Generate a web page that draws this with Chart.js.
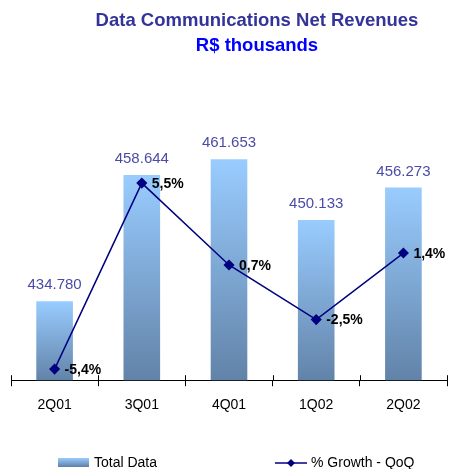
<!DOCTYPE html>
<html>
<head>
<meta charset="utf-8">
<script src="https://cdn.jsdelivr.net/npm/chart.js@4/dist/chart.umd.min.js"></script>
<style>
  html, body { margin: 0; padding: 0; background: #fff; }
  #wrap { width: 453px; height: 469px; }
</style>
</head>
<body>
<div id="wrap"><canvas id="chart" width="453" height="469"></canvas></div>
<script>
// data
var quarters = ["2Q01", "3Q01", "4Q01", "1Q02", "2Q02"];
var totalData = [434780, 458644, 461653, 450133, 456273];
var growth = [-5.4, 5.5, 0.7, -2.5, 1.4];
var titleLines = ["Data Communications Net Revenues", "R$ thousands"];
var legendNames = ["Total Data", "% Growth - QoQ"];

function fmtThousands(v) {
  return String(v).replace(/\B(?=(\d{3})+(?!\d))/g, ".");
}
function fmtPct(v) {
  return v.toFixed(1).replace(".", ",") + "%";
}

var FONT = "'Liberation Sans', Arial, sans-serif";

var extras = {
  id: "extras",
  afterDatasetsDraw: function(chart) {
    var ctx = chart.ctx;
    var barMeta = chart.getDatasetMeta(0);
    var lineMeta = chart.getDatasetMeta(1);
    ctx.save();
    // value labels over bars
    ctx.font = "15px " + FONT;
    ctx.fillStyle = "#4b4ba6";
    ctx.textAlign = "center";
    ctx.textBaseline = "middle";
    barMeta.data.forEach(function(bar, i) {
      ctx.fillText(fmtThousands(totalData[i]), bar.x, bar.y - 16);
    });
    // growth labels
    ctx.font = "bold 14px " + FONT;
    ctx.fillStyle = "#000";
    ctx.textAlign = "left";
    lineMeta.data.forEach(function(pt, i) {
      ctx.fillText(fmtPct(growth[i]), pt.x + 10, pt.y + 1);
    });
    ctx.restore();
  },
  afterDraw: function(chart) {
    var ctx = chart.ctx;
    var xs = chart.scales.x;
    var area = chart.chartArea;
    ctx.save();
    // small tick marks above the axis line
    var step = xs.getPixelForValue(1) - xs.getPixelForValue(0);
    ctx.strokeStyle = "#000";
    ctx.lineWidth = 1;
    for (var i = 0; i <= quarters.length; i++) {
      var px = Math.round(xs.getPixelForValue(i) - step / 2) + 0.5;
      ctx.beginPath();
      ctx.moveTo(px, area.bottom - 5);
      ctx.lineTo(px, area.bottom);
      ctx.stroke();
    }
    // title
    ctx.textAlign = "center";
    ctx.textBaseline = "middle";
    ctx.font = "bold 18.5px " + FONT;
    ctx.fillStyle = "#333399";
    ctx.fillText(titleLines[0], 257, 21);
    ctx.fillStyle = "#0000ff";
    ctx.fillText(titleLines[1], 257, 46);
    // legend
    var g = ctx.createLinearGradient(0, 458, 0, 467);
    g.addColorStop(0, "#99ccff");
    g.addColorStop(1, "#5f7fa5");
    ctx.fillStyle = g;
    ctx.fillRect(58, 458, 31, 9);
    ctx.font = "14px " + FONT;
    ctx.fillStyle = "#000";
    ctx.textAlign = "left";
    ctx.fillText(legendNames[0], 94, 463);
    ctx.strokeStyle = "#000080";
    ctx.lineWidth = 1.5;
    ctx.beginPath();
    ctx.moveTo(275, 463);
    ctx.lineTo(307, 463);
    ctx.stroke();
    ctx.fillStyle = "#000080";
    ctx.beginPath();
    ctx.moveTo(291, 459);
    ctx.lineTo(295, 463);
    ctx.lineTo(291, 467);
    ctx.lineTo(287, 463);
    ctx.closePath();
    ctx.fill();
    ctx.fillStyle = "#000";
    ctx.fillText(legendNames[1], 311, 463);
    ctx.restore();
  }
};

function barGradient(context) {
  var chart = context.chart;
  var area = chart.chartArea;
  var ys = chart.scales.y;
  if (!area || !ys) return "#7fa6d6";
  var top = ys.getPixelForValue(totalData[context.dataIndex]);
  if (!isFinite(top) || !isFinite(area.bottom)) return "#7fa6d6";
  var g = chart.ctx.createLinearGradient(0, top, 0, area.bottom);
  g.addColorStop(0, "#99ccff");
  g.addColorStop(1, "#6283a8");
  return g;
}

new Chart(document.getElementById("chart"), {
  type: "bar",
  data: {
    labels: quarters,
    datasets: [{
      type: "bar",
      label: legendNames[0],
      data: totalData,
      yAxisID: "y",
      backgroundColor: barGradient,
      borderWidth: 0,
      categoryPercentage: 1,
      barPercentage: 0.42,
      order: 2
    }, {
      type: "line",
      label: legendNames[1],
      data: growth,
      yAxisID: "y1",
      borderColor: "#000080",
      backgroundColor: "#000080",
      borderWidth: 1.5,
      pointStyle: "rectRot",
      pointRadius: 4.5,
      pointHoverRadius: 4.5,
      tension: 0,
      order: 1
    }]
  },
  options: {
    responsive: false,
    animation: false,
    events: [],
    layout: { padding: { top: 80, left: 11, right: -5, bottom: 44 } },
    plugins: {
      legend: { display: false },
      title: { display: false },
      tooltip: { enabled: false }
    },
    scales: {
      x: {
        grid: { offset: true, drawOnChartArea: false, tickLength: 6, color: "#000" },
        border: { color: "#000", width: 1 },
        ticks: { color: "#000", font: { family: FONT, size: 14 }, padding: 11 }
      },
      y: {
        display: false,
        min: 419820,
        max: 476640
      },
      y1: {
        display: false,
        min: -6.05,
        max: 11.54
      }
    }
  },
  plugins: [extras]
});
</script>
</body>
</html>
